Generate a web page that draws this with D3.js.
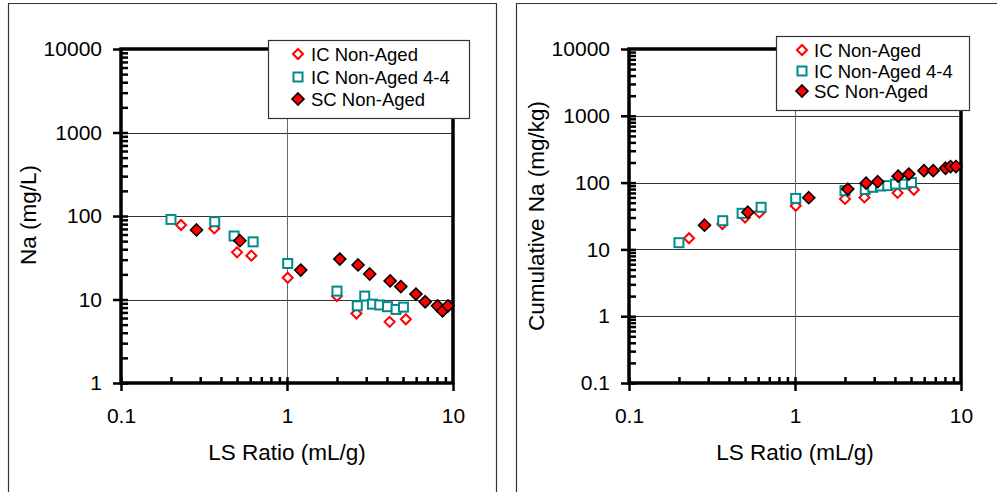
<!DOCTYPE html>
<html>
<head>
<meta charset="utf-8">
<script src="https://cdn.jsdelivr.net/npm/d3@7"></script>
<style>
  body { margin: 0; background: #fff; }
  svg { font-family: "Liberation Sans", Arial, sans-serif; }
</style>
</head>
<body>
<svg width="997" height="492"></svg>
<script>
// LS ratios (mL/g) for each series, shared by both panels
const xIC = [0.23, 0.365, 0.5, 0.61, 1.01, 2.0, 2.62, 4.15, 5.2];
const xIC44 = [0.2, 0.367, 0.48, 0.625, 1.01, 2.0, 2.65, 2.94, 3.27, 3.62, 4.03, 4.54, 5.03];
const xSC = [0.285, 0.52, 1.21, 2.08, 2.68, 3.15, 4.18, 4.85, 5.98, 6.8, 8.07, 8.65, 9.33];

// left panel: Na (mg/L)
const naIC = [78, 71, 36.7, 33.5, 18.2, 11, 6.8, 5.4, 5.8];
const naIC44 = [91, 85.5, 57.6, 49, 27, 12.6, 8.4, 11, 8.8, 8.6, 8.2, 7.6, 8.1];
const naSC = [68, 50.6, 22.5, 30.5, 25.9, 20.2, 16.7, 14.3, 11.6, 9.4, 8.4, 7.3, 8.4];

// right panel: cumulative Na (mg/kg)
const cumIC = [14.7, 24, 30, 35.5, 45, 57, 60, 70, 78];
const cumIC44 = [12.6, 26.9, 34.7, 42.7, 58, 75.6, 79, 85, 89, 90, 95, 95, 100];
const cumSC = [23, 36, 59.4, 80, 98, 103, 125, 134, 151, 151, 164, 174, 174];

const seriesNames = ["IC Non-Aged", "IC Non-Aged 4-4", "SC Non-Aged"];
const xTicks = [0.1, 1, 10];
const yTicksLeft = [1, 10, 100, 1000, 10000];
const yTicksRight = [0.1, 1, 10, 100, 1000, 10000];

const svg = d3.select("svg");

// outer frames of the two chart objects
svg.append("path").attr("d", "M8.5,500V3.5H496.5V500")
  .attr("fill", "none").attr("stroke", "#333").attr("stroke-width", 1.2);
svg.append("path").attr("d", "M516.5,500V3.5H1000")
  .attr("fill", "none").attr("stroke", "#333").attr("stroke-width", 1.2);

function minorTicks(lo, hi) {
  let t = [];
  for (let e = Math.log10(lo); e < Math.log10(hi); e++) {
    for (let k = 1; k <= 9; k++) t.push(k * Math.pow(10, e));
  }
  return t;
}

function marker(g, type) {
  if (type === 0) {
    g.append("path").attr("d", "M0,-5L5,0L0,5L-5,0Z")
      .attr("fill", "#fff").attr("stroke", "#ff0000").attr("stroke-width", 2);
  } else if (type === 1) {
    g.append("rect").attr("x", -4.5).attr("y", -4.5).attr("width", 9).attr("height", 9)
      .attr("fill", "#fff").attr("stroke", "#008b8b").attr("stroke-width", 2);
  } else {
    g.append("path").attr("d", "M0,-6L6,0L0,6L-6,0Z")
      .attr("fill", "#ff0000").attr("stroke", "#000").attr("stroke-width", 1.6);
  }
}

function drawPanel(o) {
  const x = d3.scaleLog().domain([0.1, 10]).range([o.left, o.right]);
  const y = d3.scaleLog().domain([o.yMin, 10000]).range([o.bottom, o.top]);
  const fmt = d => String(d);

  // gridlines
  const grid = svg.append("g");
  grid.selectAll("line.h").data(o.yTicks.slice(1, -1)).enter().append("line")
    .attr("x1", o.left).attr("x2", o.right)
    .attr("y1", d => Math.round(y(d)) + 0.5).attr("y2", d => Math.round(y(d)) + 0.5)
    .attr("stroke", "#333").attr("stroke-width", 1);
  grid.append("line")
    .attr("x1", Math.round(x(1)) + 0.5).attr("x2", Math.round(x(1)) + 0.5)
    .attr("y1", o.top).attr("y2", o.bottom)
    .attr("stroke", "#666").attr("stroke-width", 1);

  // minor ticks inside, major ticks outside with labels
  svg.append("g").attr("transform", `translate(${o.left},0)`)
    .call(d3.axisRight(y).tickValues(minorTicks(o.yMin, 10000)).tickSize(7).tickFormat(""))
    .call(a => a.select(".domain").remove())
    .call(a => a.selectAll("line").attr("stroke-width", 2.5));
  svg.append("g").attr("transform", `translate(${o.left},0)`)
    .call(d3.axisLeft(y).tickValues(o.yTicks).tickSize(8).tickPadding(11).tickFormat(fmt))
    .call(a => a.select(".domain").remove())
    .call(a => a.selectAll("line").attr("stroke-width", 2.5))
    .call(a => a.selectAll("text").attr("font-size", 21).attr("font-family", null).attr("fill", "#000"));

  svg.append("g").attr("transform", `translate(0,${o.bottom})`)
    .call(d3.axisTop(x).tickValues(minorTicks(0.1, 10)).tickSize(6).tickFormat(""))
    .call(a => a.select(".domain").remove())
    .call(a => a.selectAll("line").attr("stroke-width", 2.5));
  svg.append("g").attr("transform", `translate(0,${o.bottom})`)
    .call(d3.axisBottom(x).tickValues(xTicks).tickSize(8).tickPadding(17).tickFormat(fmt))
    .call(a => a.select(".domain").remove())
    .call(a => a.selectAll("line").attr("stroke-width", 2.5))
    .call(a => a.selectAll("text").attr("font-size", 21).attr("font-family", null).attr("fill", "#000"));

  // plot area border
  svg.append("rect")
    .attr("x", o.left).attr("y", o.top)
    .attr("width", o.right - o.left).attr("height", o.bottom - o.top)
    .attr("fill", "none").attr("stroke", "#000").attr("stroke-width", 3.5);

  // points
  const sets = [[xIC, o.data[0]], [xIC44, o.data[1]], [xSC, o.data[2]]];
  sets.forEach(([xs, ys], i) => {
    const pts = xs.map((v, j) => ({ x: v, y: ys[j] }));
    svg.append("g").selectAll("g").data(pts).enter().append("g")
      .attr("transform", d => `translate(${x(d.x)},${y(d.y)})`)
      .each(function() { marker(d3.select(this), i); });
  });

  // axis titles
  svg.append("text")
    .attr("x", (o.left + o.right) / 2).attr("y", 460)
    .attr("text-anchor", "middle").attr("font-size", 22.5)
    .text("LS Ratio (mL/g)");
  svg.append("text")
    .attr("transform", `translate(${o.titleX},${o.titleY}) rotate(-90)`)
    .attr("text-anchor", "middle").attr("dominant-baseline", "central").attr("font-size", 22.5)
    .text(o.yTitle);

  // legend
  const L = o.legend;
  const lg = svg.append("g");
  lg.append("rect").attr("x", L.x + 0.5).attr("y", L.y + 0.5)
    .attr("width", L.w).attr("height", L.h)
    .attr("fill", "#fff").attr("stroke", "#333").attr("stroke-width", 1.2);
  seriesNames.forEach((name, i) => {
    const row = lg.append("g").attr("transform", `translate(${L.mx},${L.rows[i]})`);
    marker(row, i);
    row.append("text").attr("x", L.tx - L.mx).attr("y", 0)
      .attr("dominant-baseline", "central").attr("font-size", 18.5)
      .text(name);
  });
}

drawPanel({
  left: 121, right: 453, top: 49, bottom: 383, yMin: 1,
  yTicks: yTicksLeft, data: [naIC, naIC44, naSC],
  yTitle: "Na (mg/L)", titleX: 28, titleY: 215,
  legend: { x: 268, y: 40, w: 201, h: 78, mx: 298, tx: 311, rows: [54, 77, 99] }
});

drawPanel({
  left: 629, right: 961, top: 49, bottom: 383, yMin: 0.1,
  yTicks: yTicksRight, data: [cumIC, cumIC44, cumSC],
  yTitle: "Cumulative Na (mg/kg)", titleX: 536, titleY: 216,
  legend: { x: 776, y: 36, w: 193, h: 74, mx: 802, tx: 814, rows: [50, 71, 91] }
});
</script>
</body>
</html>
